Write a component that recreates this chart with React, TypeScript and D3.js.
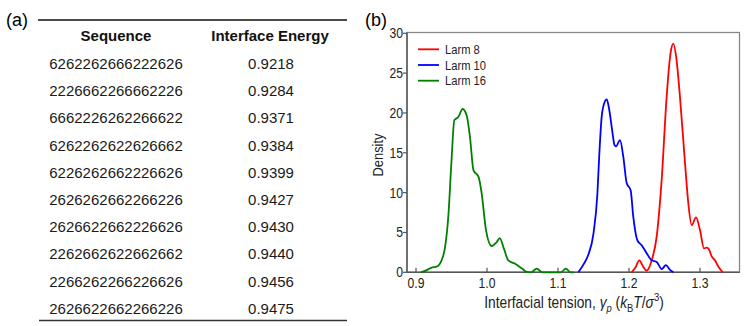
import React, { useEffect, useRef } from "react";
import * as d3 from "d3";

// table (a)
const sequences = [
  "6262262666222626",
  "2226662266662226",
  "6662226262266622",
  "6262262622626662",
  "6226262662226626",
  "2626262662266226",
  "2626622662226626",
  "2262662622662662",
  "2266262266226626",
  "2626622662266226",
];
const energies = ["0.9218", "0.9284", "0.9371", "0.9384", "0.9399", "0.9427", "0.9430", "0.9440", "0.9456", "0.9475"];

// density curves (b)
const larm8Tension = [1.2038, 1.209, 1.2145, 1.22, 1.2249, 1.232, 1.239, 1.246, 1.253, 1.2585, 1.2624, 1.2665, 1.2718, 1.2789, 1.2835, 1.2883, 1.2944, 1.3, 1.3056, 1.3095, 1.3125, 1.3165, 1.321, 1.326, 1.332];
const larm8Density = [0, 0.6, 1.5, 0.7, 0.2, 1.5, 4.5, 11.6, 22, 27.5, 28.7, 27, 22, 13.7, 8.7, 5.9, 6.9, 5.3, 3, 3.1, 2.9, 2.0, 1.5, 0.7, 0];
const larm10Tension = [1.1286, 1.136, 1.1427, 1.15, 1.1555, 1.158, 1.1615, 1.165, 1.1686, 1.172, 1.176, 1.1795, 1.1817, 1.1873, 1.192, 1.1967, 1.2023, 1.206, 1.2117, 1.2178, 1.2249, 1.232, 1.239, 1.246, 1.252, 1.2578, 1.2625];
const larm10Density = [0, 1, 2.2, 4.9, 9.9, 14.5, 19.5, 21.2, 21.7, 20.5, 18, 16, 15.8, 16.6, 14.5, 11.2, 10.3, 7, 4.05, 3.4, 2.4, 1.5, 1.3, 0.4, 0.9, 0.3, 0];
const larm16Tension = [0.907, 0.916, 0.922, 0.929, 0.936, 0.941, 0.9455, 0.95, 0.954, 0.9596, 0.9657, 0.9713, 0.976, 0.981, 0.988, 0.9925, 0.9986, 1.0066, 1.0137, 1.018, 1.0237, 1.03, 1.039, 1.049, 1.056, 1.062, 1.07, 1.078, 1.09, 1.104, 1.111, 1.118, 1.122];
const larm16Density = [0, 0.3, 0.6, 0.7, 1.5, 3.2, 7, 14, 19.1, 19.5, 20.5, 19.7, 17, 12.8, 12, 9.9, 5.3, 3.3, 3.8, 4.3, 3, 1.5, 1.1, 0.5, 0.05, 0, 0.45, 0, 0, 0, 0.45, 0, 0];

const seriesNames = ["Larm 8", "Larm 10", "Larm 16"];
const seriesColors = ["#ff0000", "#0000ff", "#008000"];
const xTicks = [0.9, 1.0, 1.1, 1.2, 1.3];
const yTicks = [0, 5, 10, 15, 20, 25, 30];

const FONT = "'Liberation Sans', Arial, sans-serif";

export default function App() {
  const ref = useRef<SVGSVGElement>(null);

  useEffect(() => {
    const svg = d3.select(ref.current);
    svg.selectAll("*").remove();

    // squeezed text, the plot labels look condensed
    function label(g: any, x: number, y: number, str: string, size: number, anchor: string, sx = 0.84) {
      return g.append("text")
        .attr("transform", "translate(" + [x, y] + ") scale(" + sx + ",1)")
        .attr("text-anchor", anchor)
        .style("font-family", FONT)
        .style("font-size", size + "px")
        .style("fill", "#222")
        .text(str);
    }

    // ---------- (a) table ----------
    const ta = svg.append("g");
    ta.append("text").attr("x", 6).attr("y", 26).style("font-family", FONT).style("font-size", "18px").text("(a)");
    ta.append("line").attr("x1", 38).attr("x2", 347).attr("y1", 20).attr("y2", 20).attr("stroke", "#111").attr("stroke-width", 1.4);
    ta.append("line").attr("x1", 39).attr("x2", 347).attr("y1", 320.5).attr("y2", 320.5).attr("stroke", "#333").attr("stroke-width", 1.4);

    const seqX = 116, valX = 270;
    ta.append("text").attr("x", seqX).attr("y", 41).attr("text-anchor", "middle")
      .style("font-family", FONT).style("font-size", "15px").style("font-weight", "bold").style("fill", "#111").text("Sequence");
    ta.append("text").attr("x", valX).attr("y", 41).attr("text-anchor", "middle")
      .style("font-family", FONT).style("font-size", "15px").style("font-weight", "bold").style("fill", "#111").text("Interface Energy");

    const rowY = d3.scaleLinear().domain([0, sequences.length - 1]).range([63.5, 308.3]);
    sequences.forEach((s, i) => {
      ta.append("text").attr("x", seqX).attr("y", rowY(i)).attr("dy", "0.36em").attr("text-anchor", "middle")
        .style("font-family", FONT).style("font-size", "15px").style("fill", "#1a1a1a").text(s);
      ta.append("text").attr("x", valX + 1).attr("y", rowY(i)).attr("dy", "0.36em").attr("text-anchor", "middle")
        .style("font-family", FONT).style("font-size", "15px").style("fill", "#1a1a1a").text(energies[i]);
    });

    // ---------- (b) density plot ----------
    const left = 407, right = 739.5, top = 32.5, bottom = 272.3;
    const x = d3.scaleLinear().domain([0.9, 1.3]).range([416, 700]);
    const y = d3.scaleLinear().domain([0, 30]).range([bottom, top + 0.8]);

    const gb = svg.append("g");
    gb.append("text").attr("x", 365).attr("y", 26).style("font-family", FONT).style("font-size", "18px").text("(b)");

    // frame
    gb.append("rect").attr("x", left).attr("y", top).attr("width", right - left).attr("height", bottom - top)
      .attr("fill", "none").attr("stroke", "#888").attr("stroke-width", 1.3);
    gb.append("line").attr("x1", left).attr("x2", left).attr("y1", top).attr("y2", bottom).attr("stroke", "#555").attr("stroke-width", 1.4);
    gb.append("line").attr("x1", left).attr("x2", right).attr("y1", bottom).attr("y2", bottom).attr("stroke", "#555").attr("stroke-width", 1.4);

    // curves
    const line = d3.line<[number, number]>()
      .x(d => x(d[0]))
      .y(d => y(d[1]))
      .curve(d3.curveMonotoneX);
    const series = [
      d3.zip(larm8Tension, larm8Density),
      d3.zip(larm10Tension, larm10Density),
      d3.zip(larm16Tension, larm16Density),
    ];
    series.forEach((pts, i) => {
      gb.append("path")
        .attr("d", line(pts as [number, number][]))
        .attr("fill", "none")
        .attr("stroke", seriesColors[i])
        .attr("stroke-width", 1.8)
        .attr("stroke-linejoin", "round");
    });

    // x ticks point inwards
    xTicks.forEach(t => {
      gb.append("line").attr("x1", x(t)).attr("x2", x(t)).attr("y1", bottom).attr("y2", bottom - 4.5)
        .attr("stroke", "#555").attr("stroke-width", 1.2);
      label(gb, x(t), 288, d3.format(".1f")(t), 14.5, "middle");
    });

    // y ticks point outwards
    yTicks.forEach(t => {
      gb.append("line").attr("x1", left - 4).attr("x2", left).attr("y1", y(t)).attr("y2", y(t))
        .attr("stroke", "#555").attr("stroke-width", 1.2);
      label(gb, 403, y(t) + 5, String(t), 14.5, "end");
    });

    // axis titles
    gb.append("text")
      .attr("transform", "translate(383,155) rotate(-90) scale(0.86,1)")
      .attr("text-anchor", "middle")
      .style("font-family", FONT).style("font-size", "15px").style("fill", "#222")
      .text("Density");

    const title = gb.append("text")
      .attr("transform", "translate(574,308) scale(0.86,1)")
      .attr("text-anchor", "middle")
      .style("font-family", FONT).style("font-size", "16px").style("fill", "#222");
    title.append("tspan").text("Interfacial tension, ");
    title.append("tspan").style("font-style", "italic").text("γ");
    title.append("tspan").style("font-style", "italic").style("font-size", "11px").attr("dy", 4).text("p");
    title.append("tspan").attr("dy", -4).text(" (");
    title.append("tspan").style("font-style", "italic").text("k");
    title.append("tspan").style("font-size", "11px").attr("dy", 4).text("B");
    title.append("tspan").style("font-style", "italic").attr("dy", -4).text("T");
    title.append("tspan").text("/");
    title.append("tspan").style("font-style", "italic").text("σ");
    title.append("tspan").style("font-size", "11px").attr("dy", -7).text("3");
    title.append("tspan").attr("dy", 7).text(")");

    // legend
    seriesNames.forEach((name, i) => {
      const ly = 49.3 + i * 15.7;
      gb.append("line").attr("x1", 418).attr("x2", 439).attr("y1", ly).attr("y2", ly)
        .attr("stroke", seriesColors[i]).attr("stroke-width", 1.8);
      label(gb, 445, ly + 4.5, name, 13, "start", 0.86);
    });
  }, []);

  return (
    <svg ref={ref} width={747} height={326}
      style={{ position: "absolute", left: 0, top: 0, background: "#fff" }} />
  );
}
